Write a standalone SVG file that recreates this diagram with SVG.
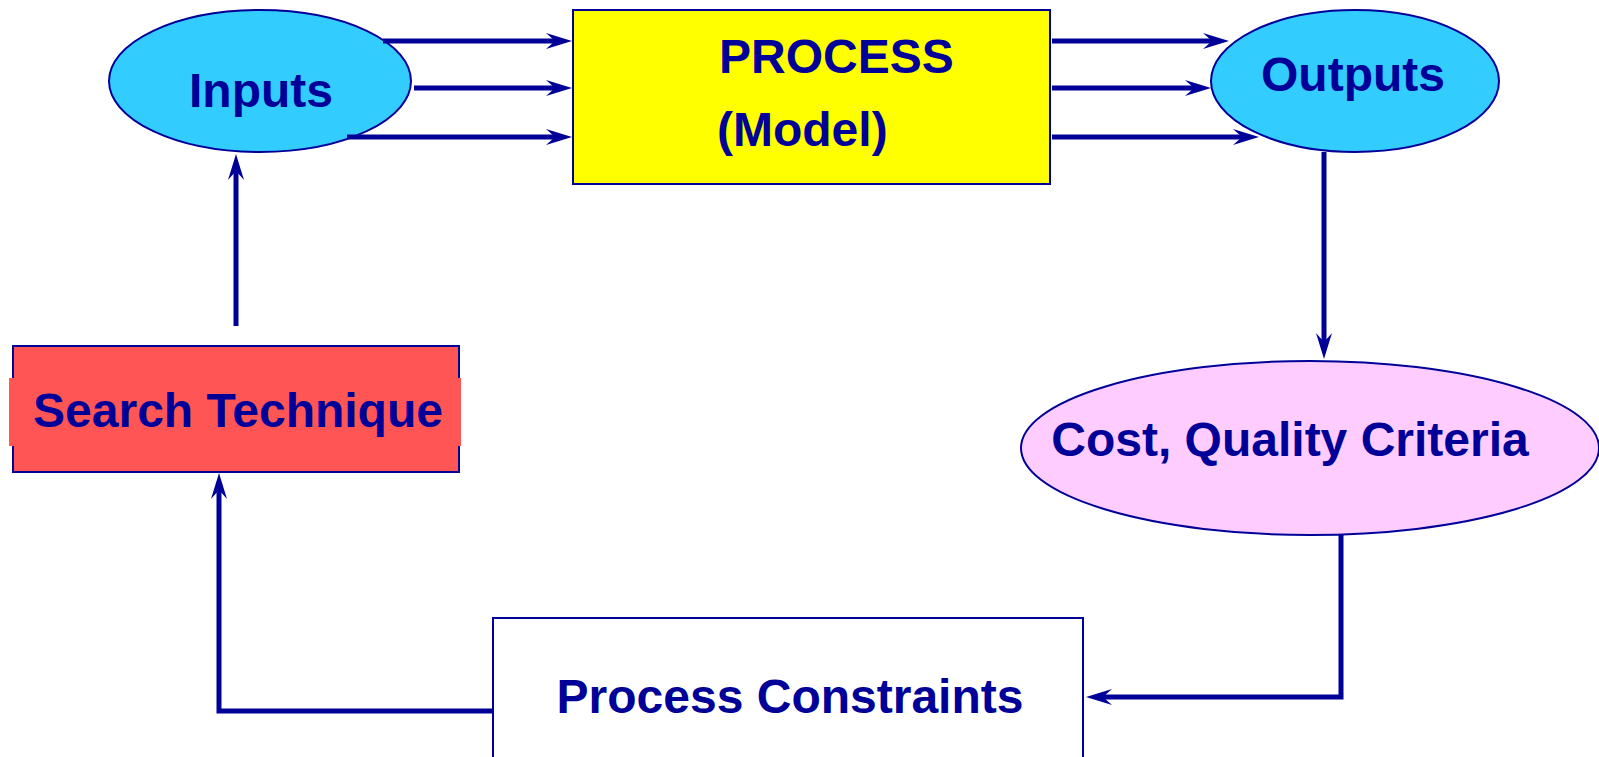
<svg xmlns="http://www.w3.org/2000/svg" width="1599" height="757" viewBox="0 0 1599 757">
<style>
.lbl{font-family:"Liberation Sans",Arial,sans-serif;font-weight:bold;font-size:48px;fill:#000099}
.nd{stroke:#000099;stroke-width:2}
.cn{fill:none;stroke:#000099;stroke-width:5;stroke-linecap:butt;stroke-linejoin:miter}
.ar{marker-end:url(#arr)}
</style>
<defs>
<marker id="arr" markerUnits="userSpaceOnUse" viewBox="-27 -9 28 18" refX="-16" refY="0" markerWidth="28" markerHeight="18" orient="auto">
<path d="M0,0 L-26,-8 L-17,0 L-26,8 Z" fill="#000099"/>
</marker>
</defs>
<rect width="1599" height="757" fill="#ffffff"/>
<g id="node-inputs">
<ellipse class="nd" cx="260" cy="81" rx="151" ry="71" fill="#33ccff"/>
<text class="lbl" x="261" y="107" text-anchor="middle">Inputs</text>
</g>
<g id="node-process">
<rect class="nd" x="573" y="10" width="477" height="174" fill="#ffff00"/>
<text class="lbl" x="719" y="73" font-size="47">PROCESS</text>
<text class="lbl" x="717" y="146">(Model)</text>
</g>
<g id="node-outputs">
<ellipse class="nd" cx="1355" cy="81" rx="144" ry="71" fill="#33ccff"/>
<text class="lbl" x="1353" y="91" text-anchor="middle">Outputs</text>
</g>
<g id="node-search">
<rect class="nd" x="13" y="346" width="446" height="126" fill="#ff5555"/>
<rect x="9" y="378" width="452" height="68" fill="#ff5555"/>
<text class="lbl" x="238" y="427" text-anchor="middle">Search Technique</text>
</g>
<g id="node-cost">
<ellipse class="nd" cx="1310" cy="448" rx="289" ry="87" fill="#ffccff"/>
<text class="lbl" x="1290" y="456" text-anchor="middle">Cost, Quality Criteria</text>
</g>
<g id="node-constraints">
<rect class="nd" x="493" y="618" width="590" height="150" fill="#ffffff"/>
<text class="lbl" x="790" y="713" text-anchor="middle">Process Constraints</text>
</g>
<g id="connectors">
<path class="cn ar" d="M383,41 H556"/>
<path class="cn ar" d="M414,88 H556"/>
<path class="cn ar" d="M347,137 H556"/>
<path class="cn ar" d="M1052,41 H1213"/>
<path class="cn ar" d="M1052,88 H1195"/>
<path class="cn ar" d="M1052,137 H1243"/>
<path class="cn ar" d="M1324,152 V343"/>
<path class="cn ar" d="M1341,535 V697 H1102"/>
<path class="cn ar" d="M493,711 H219 V489"/>
<path class="cn ar" d="M236,326 V170"/>
</g>
</svg>
